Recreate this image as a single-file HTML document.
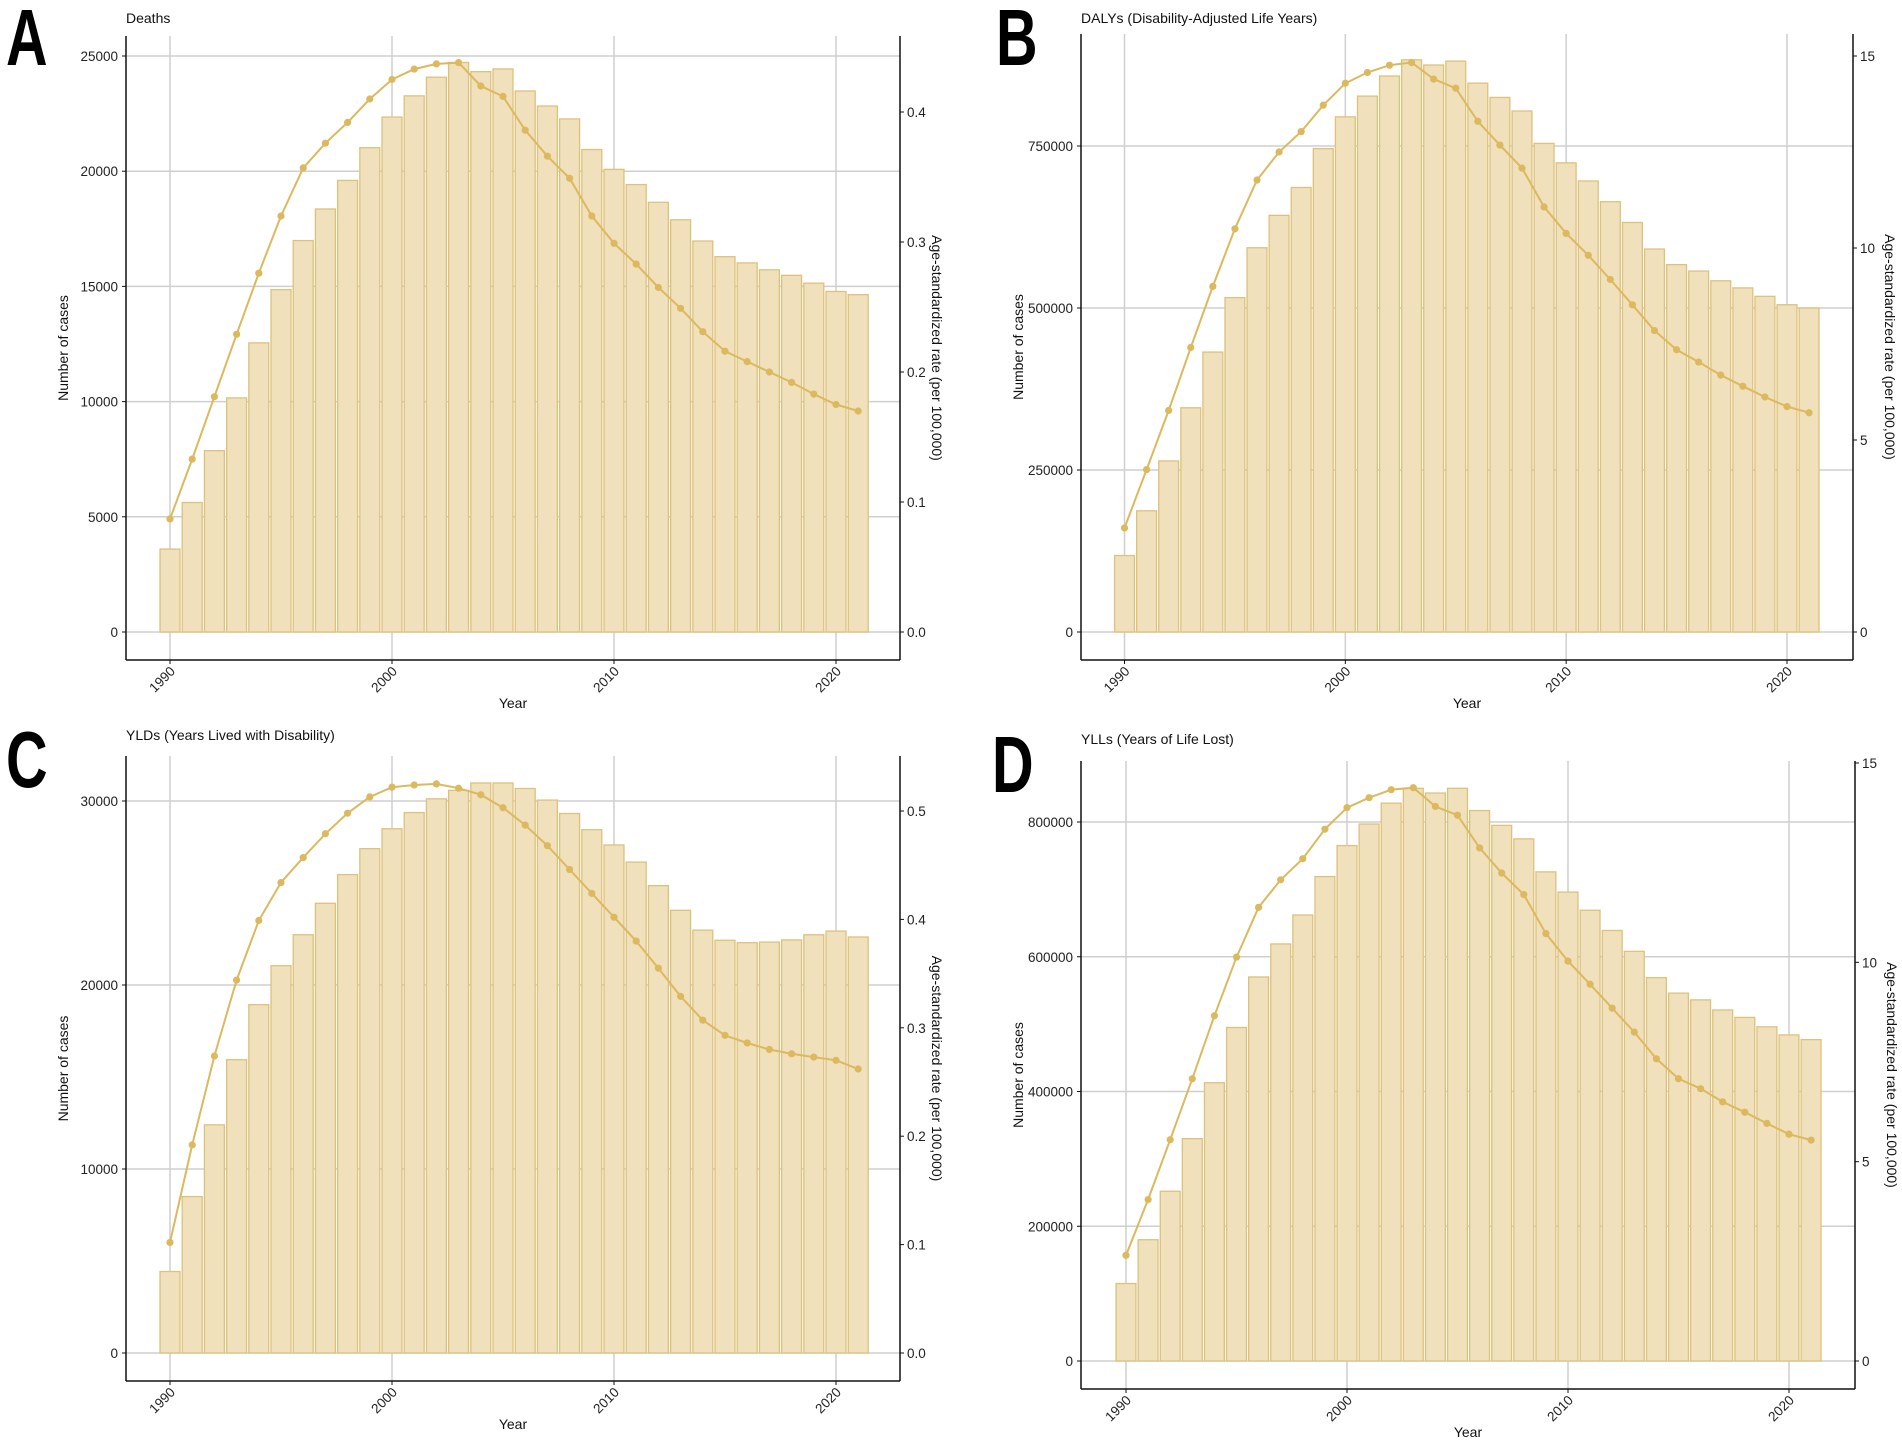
<!DOCTYPE html>
<html><head><meta charset="utf-8">
<style>
html,body{margin:0;padding:0;background:#fff;}
svg{display:block;font-family:"Liberation Sans",sans-serif;}
</style></head>
<body>
<svg id="fig" width="1902" height="1450" viewBox="0 0 1902 1450" xmlns="http://www.w3.org/2000/svg"></svg>
<script>
const years = [1990,1991,1992,1993,1994,1995,1996,1997,1998,1999,2000,2001,2002,2003,2004,2005,2006,2007,2008,2009,2010,2011,2012,2013,2014,2015,2016,2017,2018,2019,2020,2021];
const xTickYears = [1990,2000,2010,2020];

const deathsCases = [3600,5620,7870,10160,12550,14860,16990,18360,19600,21020,22350,23270,24080,24720,24320,24440,23480,22830,22270,20940,20080,19420,18650,17890,16970,16290,16020,15720,15480,15140,14780,14640];
const deathsRate = [0.087,0.133,0.181,0.229,0.276,0.320,0.357,0.376,0.392,0.410,0.425,0.433,0.437,0.438,0.420,0.412,0.386,0.366,0.349,0.320,0.299,0.283,0.265,0.249,0.231,0.216,0.208,0.200,0.192,0.183,0.175,0.170];
const deathsLeftTicks = [0,5000,10000,15000,20000,25000];
const deathsRightTicks = [0.0,0.1,0.2,0.3,0.4];
const deathsRightLabels = ["0.0","0.1","0.2","0.3","0.4"];

const dalysCases = [118000,187000,264000,346000,432000,516000,593000,643000,686000,746000,795000,827000,858000,883000,875000,881000,847000,825000,804000,754000,724000,696000,664000,632000,591000,567000,557000,542000,531000,518000,505000,500000];
const dalysRate = [2.71,4.23,5.77,7.41,9.0,10.5,11.77,12.5,13.03,13.72,14.29,14.57,14.76,14.83,14.4,14.16,13.3,12.68,12.08,11.07,10.38,9.81,9.18,8.52,7.85,7.35,7.03,6.69,6.4,6.12,5.87,5.71];
const dalysLeftTicks = [0,250000,500000,750000];
const dalysRightTicks = [0,5,10,15];
const dalysRightLabels = ["0","5","10","15"];

const yldsCases = [4430,8500,12400,15940,18930,21050,22730,24440,26000,27410,28490,29370,30120,30580,30980,30980,30680,30050,29320,28440,27610,26680,25400,24060,22980,22430,22300,22330,22450,22730,22930,22610];
const yldsRate = [0.102,0.192,0.274,0.344,0.399,0.434,0.457,0.479,0.498,0.513,0.522,0.524,0.525,0.521,0.515,0.503,0.487,0.468,0.446,0.424,0.402,0.380,0.355,0.329,0.307,0.293,0.286,0.280,0.276,0.273,0.270,0.262];
const yldsLeftTicks = [0,10000,20000,30000];
const yldsRightTicks = [0.0,0.1,0.2,0.3,0.4,0.5];
const yldsRightLabels = ["0.0","0.1","0.2","0.3","0.4","0.5"];

const yllsCases = [115000,180000,252000,330000,413000,495000,570000,619000,662000,719000,765000,797000,828000,850000,843000,850000,817000,795000,775000,726000,696000,669000,639000,608000,569000,546000,536000,521000,510000,496000,484000,477000];
const yllsRate = [2.65,4.05,5.55,7.08,8.66,10.13,11.38,12.07,12.6,13.34,13.88,14.13,14.33,14.38,13.91,13.69,12.87,12.24,11.7,10.72,10.03,9.45,8.85,8.25,7.58,7.08,6.83,6.5,6.24,5.96,5.69,5.54];
const yllsLeftTicks = [0,200000,400000,600000,800000];
const yllsRightTicks = [0,5,10,15];
const yllsRightLabels = ["0","5","10","15"];

const NS = "http://www.w3.org/2000/svg";
const svg = document.getElementById('fig');
function mk(tag, attrs, parent, text){
  const e = document.createElementNS(NS, tag);
  for (const k in attrs) e.setAttribute(k, attrs[k]);
  if (text !== undefined) e.textContent = text;
  (parent || svg).appendChild(e);
  return e;
}

const panels = [
  {id:'a', letter:'A', title:'Deaths', cases:deathsCases, rate:deathsRate, lt:deathsLeftTicks, rt:deathsRightTicks, rl:deathsRightLabels,
   x1990:170, x2020:836, axL:126, axR:900, top:36, bot:660, zeroY:632, lRefV:25000, lRefY:56, rRefV:0.4, rRefY:112, titleX:126, titleY:23, letterX:6, letterY:65},
  {id:'b', letter:'B', title:'DALYs (Disability-Adjusted Life Years)', cases:dalysCases, rate:dalysRate, lt:dalysLeftTicks, rt:dalysRightTicks, rl:dalysRightLabels,
   x1990:1124.5, x2020:1787, axL:1081, axR:1853, top:34, bot:660, zeroY:632, lRefV:750000, lRefY:146, rRefV:15, rRefY:56, titleX:1081, titleY:23, letterX:996, letterY:65},
  {id:'c', letter:'C', title:'YLDs (Years Lived with Disability)', cases:yldsCases, rate:yldsRate, lt:yldsLeftTicks, rt:yldsRightTicks, rl:yldsRightLabels,
   x1990:170, x2020:836, axL:126, axR:900, top:756, bot:1381, zeroY:1353, lRefV:30000, lRefY:801, rRefV:0.5, rRefY:811, titleX:126, titleY:740, letterX:6, letterY:787},
  {id:'d', letter:'D', title:'YLLs (Years of Life Lost)', cases:yllsCases, rate:yllsRate, lt:yllsLeftTicks, rt:yllsRightTicks, rl:yllsRightLabels,
   x1990:1126, x2020:1789, axL:1081, axR:1855, top:761, bot:1389, zeroY:1361, lRefV:800000, lRefY:822, rRefV:15, rRefY:763, titleX:1081, titleY:744, letterX:992, letterY:792}
];

panels.forEach(p => {
  const g = mk('g', {});
  
  
  const step = (p.x2020 - p.x1990) / 30;
  const xs = yr => p.x1990 + (yr - 1990) * step;
  const yL = v => p.zeroY - v * (p.zeroY - p.lRefY) / p.lRefV;
  const yR = v => p.zeroY - v * (p.zeroY - p.rRefY) / p.rRefV;

  const lt = mk('text', {x:0, y:0, 'font-size':80, 'font-weight':'bold', fill:'#000', transform:'translate('+p.letterX+' '+p.letterY+') scale(0.72 1)'}, g, p.letter);
  
  
  const tt = mk('text', {x:p.titleX, y:p.titleY, 'font-size':14, fill:'#111'}, g, p.title);
  
  

  xTickYears.forEach(yr => {
    const l = mk('line', {x1:xs(yr), x2:xs(yr), y1:p.top, y2:p.bot, stroke:'#cfcfcf', 'stroke-width':1.5}, g);
    
    
  });
  p.lt.forEach(v => {
    const l = mk('line', {x1:p.axL, x2:p.axR, y1:yL(v), y2:yL(v), stroke:'#cfcfcf', 'stroke-width':1.5}, g);
    
    
  });

  const bw = step * 0.9;
  years.forEach((yr, i) => {
    const y0 = yL(p.cases[i]);
    const b = mk('rect', {x:xs(yr)-bw/2, y:y0, width:bw, height:p.zeroY - y0, fill:'#f0e0bb', stroke:'#ddc27c', 'stroke-width':1.3}, g);
    
    
  });

  const pts = years.map((yr, i) => xs(yr).toFixed(1) + ',' + yR(p.rate[i]).toFixed(1)).join(' ');
  const pl = mk('polyline', {points:pts, fill:'none', stroke:'#dcb95e', 'stroke-width':2}, g);
  
  
  years.forEach((yr, i) => {
    const c = mk('circle', {cx:xs(yr), cy:yR(p.rate[i]), r:3.6, fill:'#dcb95e'}, g);
    
    
  });

  const axl = mk('line', {x1:p.axL, x2:p.axL, y1:p.top, y2:p.bot, stroke:'#111', 'stroke-width':1.5}, g);
  
  
  const axr = mk('line', {x1:p.axR, x2:p.axR, y1:p.top, y2:p.bot, stroke:'#111', 'stroke-width':1.5}, g);
  
  
  const axb = mk('line', {x1:p.axL, x2:p.axR, y1:p.bot, y2:p.bot, stroke:'#111', 'stroke-width':1.5}, g);
  
  

  p.lt.forEach(v => {
    mk('line', {x1:p.axL-4, x2:p.axL, y1:yL(v), y2:yL(v), stroke:'#111', 'stroke-width':1}, g);
    const t = mk('text', {x:p.axL-8, y:yL(v)+5, 'font-size':13.5, 'text-anchor':'end', fill:'#222'}, g, String(v));
    
    
  });
  p.rt.forEach((v, i) => {
    mk('line', {x1:p.axR, x2:p.axR+4, y1:yR(v), y2:yR(v), stroke:'#111', 'stroke-width':1}, g);
    const t = mk('text', {x:p.axR+7, y:yR(v)+5, 'font-size':13.5, fill:'#222'}, g, p.rl[i]);
    
    
  });
  xTickYears.forEach(yr => {
    mk('line', {x1:xs(yr), x2:xs(yr), y1:p.bot, y2:p.bot+4, stroke:'#111', 'stroke-width':1}, g);
    const tx = xs(yr) + 6, ty = p.bot + 12;
    const t = mk('text', {x:tx, y:ty, 'font-size':13.5, 'text-anchor':'end', fill:'#222', transform:'rotate(-45 '+tx+' '+ty+')'}, g, String(yr));
    
    
  });

  const cx = (p.axL + p.axR) / 2, cy = (p.top + p.bot) / 2;
  const xt = mk('text', {x:cx, y:p.bot+48, 'font-size':14, 'text-anchor':'middle', fill:'#111'}, g, 'Year');
  
  
  const lx = p.axL - 58;
  const ly = mk('text', {x:lx, y:cy, 'font-size':14, 'text-anchor':'middle', fill:'#111', transform:'rotate(-90 '+lx+' '+cy+')'}, g, 'Number of  cases');
  
  
  const rx = p.axR + 32;
  const ry = mk('text', {x:rx, y:cy, 'font-size':14, 'text-anchor':'middle', fill:'#111', transform:'rotate(90 '+rx+' '+cy+')'}, g, 'Age-standardized  rate (per 100,000)');
  
  
});
</script>
</body></html>
